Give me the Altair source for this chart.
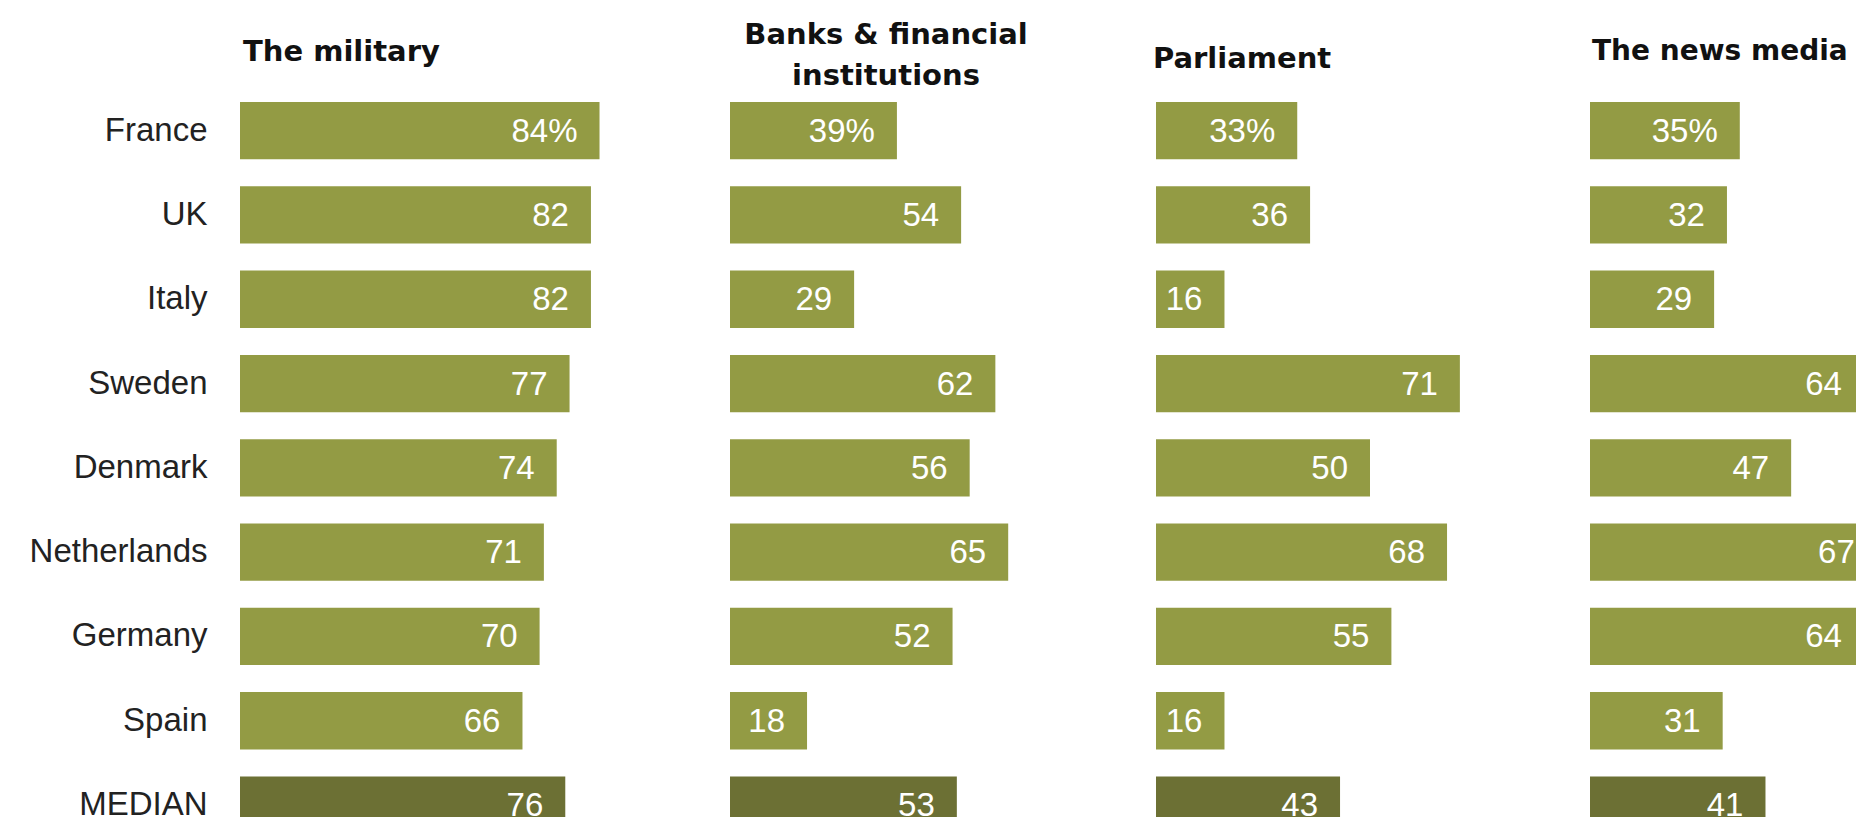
import altair as alt
import pandas as pd

countries = ["France", "UK", "Italy", "Sweden", "Denmark", "Netherlands", "Germany", "Spain", "MEDIAN"]
military = [84, 82, 82, 77, 74, 71, 70, 66, 76]
banks = [39, 54, 29, 62, 56, 65, 52, 18, 53]
parliament = [33, 36, 16, 71, 50, 68, 55, 16, 43]
news_media = [35, 32, 29, 64, 47, 67, 64, 31, 41]
titles = ["The military", ["Banks & financial", "institutions"], "Parliament", "The news media"]

BAR = "#939B44"
MED = "#6C7034"
PX = 4.28                      # px per percentage point
WIDTHS = [490, 426, 434, 266]
STEP = 84.3
RANGE = STEP * 8.68
H = 715
FONT = "Liberation Sans"
TFONT = "DejaVu Sans"


def panel(vals, title, width, first, tdx, toffset, talign, tlh, tsize):
    df = pd.DataFrame({
        "country": countries,
        "value": vals,
        "label": [f"{v}%" if i == 0 else str(v) for i, v in enumerate(vals)],
        "kind": ["country"] * (len(countries) - 1) + ["median"],
    })
    if first:
        yaxis = alt.Axis(title=None, domain=False, ticks=False, grid=False,
                         labelPadding=33, labelFont=FONT, labelFontSize=33,
                         labelColor="#222222", labelLimit=400,
                         minExtent=227, maxExtent=227)
    else:
        yaxis = None
    y = alt.Y("country:N", sort=countries,
              scale=alt.Scale(paddingInner=0.32, paddingOuter=0, range=[0, RANGE]),
              axis=yaxis)
    x = alt.X("value:Q", scale=alt.Scale(domain=[0, width / PX], nice=False, zero=True),
              axis=None)
    bars = alt.Chart(df).mark_bar(clip=True).encode(
        x=x, y=y,
        color=alt.Color("kind:N", scale=alt.Scale(domain=["country", "median"], range=[BAR, MED]),
                        legend=None),
    )
    text = alt.Chart(df).mark_text(align="right", baseline="middle", dx=-22, dy=1,
                                   color="white", font=FONT, fontSize=33, clip=True).encode(
        x=x, y=y, text="label:N")
    return alt.layer(bars, text).properties(
        width=width, height=H,
        title=alt.Title(title, anchor="start", frame="group", align=talign, dx=tdx,
                        offset=toffset, font=TFONT, fontSize=tsize, fontWeight="bold",
                        color="#111111", baseline="alphabetic", lineHeight=tlh),
    )


p1 = panel(military, titles[0], WIDTHS[0], True, 3, 12, "left", 29, 29)
p2 = panel(banks, titles[1], WIDTHS[1], False, 156, -12, "center", 41, 29)
p3 = panel(parliament, titles[2], WIDTHS[2], False, -3, 5, "left", 29, 29)
p4 = panel(news_media, titles[3], WIDTHS[3], False, 2, 14, "left", 28, 28)

chart = alt.hconcat(p1, p2, p3, p4, spacing=0, bounds="flush").configure_view(
    stroke=None
).properties(
    padding={"left": 5, "top": 13, "right": 0, "bottom": 0},
    background="white",
)

chart.save("out.html", embed_options={"renderer": "svg", "actions": False})
